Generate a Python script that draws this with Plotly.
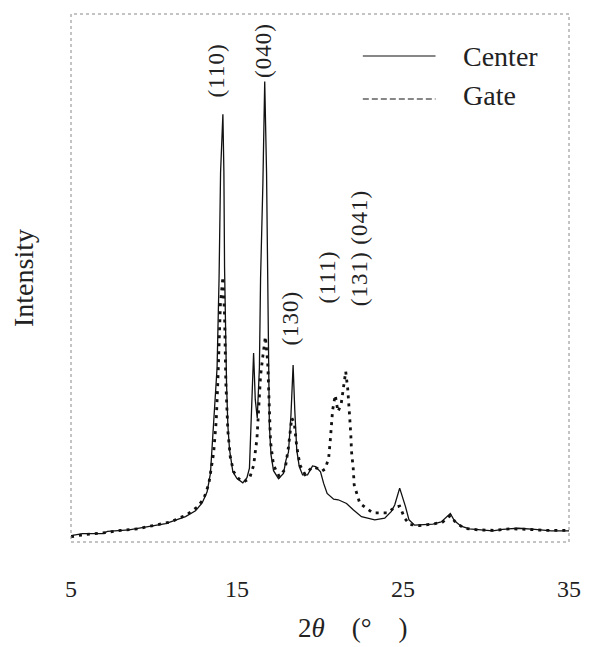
import plotly.graph_objects as go

# XRD patterns, 2-theta in degrees, intensity in arbitrary units
two_theta_center = [5.0, 5.7, 6.9, 7.2, 8.5, 9.7, 10.7, 11.9, 12.5, 12.9, 13.2, 13.4,
                    13.55, 13.72, 13.8, 13.92, 14.01, 14.15, 14.21, 14.25, 14.3, 14.37,
                    14.45, 14.55, 14.75, 15.0, 15.35, 15.6, 15.75, 15.87, 16.0, 16.1,
                    16.22, 16.35, 16.42, 16.56, 16.67, 16.78, 16.84, 16.88, 16.95, 17.05,
                    17.2, 17.5, 17.8, 17.95, 18.1, 18.25, 18.38, 18.48, 18.6, 18.75,
                    18.95, 19.25, 19.55, 19.73, 20.03, 20.22, 20.43, 20.82, 21.1, 21.6,
                    22.0, 22.5, 23.3, 23.9, 24.3, 24.5, 24.8, 25.15, 25.36, 25.7, 26.3,
                    26.8, 27.3, 27.6, 27.85, 28.1, 28.5, 29.0, 30.4, 31.0, 31.96, 32.95,
                    33.94, 35.0]
center = [1.2, 1.6, 1.6, 2.0, 2.3, 2.9, 3.5, 4.8, 5.9, 7.4, 9.5, 13.0,
          20.0, 28.0, 33.0, 50.0, 70.0, 81.0, 70.0, 52.0, 40.0, 30.0,
          22.0, 17.5, 13.3, 12.0, 11.2, 12.2, 14.0, 24.0, 35.8, 27.0,
          23.5, 33.0, 50.0, 68.0, 87.2, 70.0, 50.0, 33.0, 22.0, 16.5,
          13.5, 12.0, 13.0, 15.5, 17.0, 24.0, 33.5, 25.0, 17.4, 14.3,
          12.7, 12.7, 14.4, 14.3, 13.3, 11.1, 9.2, 8.1, 8.0, 7.3,
          6.1, 4.8, 4.2, 4.5, 5.8, 7.0, 10.2, 6.7, 4.2, 3.2, 3.3,
          3.4, 3.8, 4.6, 5.4, 4.0, 3.0, 2.5, 2.1, 2.4, 2.6, 2.4,
          2.1, 2.1]

two_theta_gate = [5.0, 5.8, 6.9, 8.0, 9.0, 10.0, 11.0, 12.0, 12.6, 13.0, 13.3, 13.59,
                  13.75, 13.85, 14.0, 14.15, 14.25, 14.33, 14.45, 14.6, 14.8, 15.1,
                  15.4, 15.75, 16.0, 16.2, 16.3, 16.42, 16.55, 16.71, 16.85, 16.93,
                  17.02, 17.2, 17.55, 17.9, 18.1, 18.3, 18.45, 18.6, 18.8, 19.1,
                  19.55, 19.8, 20.1, 20.3, 20.52, 20.62, 20.68, 20.76, 20.92, 21.08,
                  21.27, 21.41, 21.55, 21.67, 21.75, 21.8, 21.86, 21.9, 22.0, 22.06,
                  22.4, 23.18, 24.07, 24.47, 24.8, 25.1, 25.4, 26.0, 26.8, 27.4,
                  27.85, 28.2, 28.7, 29.5, 30.5, 31.5, 32.5, 33.5, 35.0]
gate = [1.0, 1.4, 1.7, 2.2, 2.5, 3.1, 3.8, 5.2, 6.6, 8.2, 11.0, 16.8,
        23.0, 30.7, 45.0, 50.2, 43.0, 30.0, 21.0, 16.0, 13.3, 12.0,
        11.4, 12.0, 14.5, 19.5, 26.0, 31.5, 35.0, 38.9, 34.0, 26.0,
        19.0, 14.5, 12.4, 13.8, 18.0, 23.5, 22.5, 18.0, 14.5, 12.8,
        14.2, 14.0, 13.4, 13.8, 15.8, 19.3, 22.0, 25.0, 27.8, 24.7,
        26.0, 29.0, 32.3, 29.0, 26.3, 23.1, 20.0, 17.1, 14.0, 10.8,
        7.3, 5.5, 5.5, 6.5, 6.8, 4.5, 3.3, 3.1, 3.4, 3.8,
        5.0, 3.6, 2.6, 2.3, 2.2, 2.5, 2.4, 2.2, 2.2]

# Miller-index labels: text and position (2-theta, intensity)
peak_labels = ["(110)", "(040)", "(130)", "(111)", "(131) (041)"]
label_x = [13.79, 16.6, 18.25, 20.43, 22.4]
label_y = [89.3, 93.1, 42.5, 50.1, 55.6]

x_ticks = [5, 15, 25, 35]

SERIF = "Liberation Serif, Times New Roman, serif"
NB = "\u00a0"

fig = go.Figure()
fig.add_trace(go.Scatter(x=two_theta_center, y=center, mode="lines", name="Center",
                         line=dict(color="#111", width=1.3), showlegend=False))
fig.add_trace(go.Scatter(x=two_theta_gate, y=gate, mode="lines", name="Gate",
                         line=dict(color="#111", width=2.8, dash="3px,5px"),
                         showlegend=False))

for txt, lx, ly in zip(peak_labels, label_x, label_y):
    fig.add_annotation(x=lx, y=ly, xref="x", yref="y",
                       text=f'<span style="letter-spacing:1px">{txt}</span>',
                       textangle=-90, showarrow=False, xanchor="center", yanchor="middle",
                       font=dict(family=SERIF, size=23, color="#222"))

# legend drawn by hand so the line samples are long
fig.add_shape(type="line", xref="paper", yref="paper", x0=0.586, x1=0.732,
              y0=0.9205, y1=0.9205, line=dict(color="#111", width=1.2))
fig.add_shape(type="line", xref="paper", yref="paper", x0=0.586, x1=0.732,
              y0=0.839, y1=0.839, line=dict(color="#111", width=1.2, dash="6px,3px"))
fig.add_annotation(x=0.783, y=0.9186, xref="paper", yref="paper", text="Center",
                   showarrow=False, xanchor="left", yanchor="middle",
                   font=dict(family=SERIF, size=28, color="#222"))
fig.add_annotation(x=0.783, y=0.845, xref="paper", yref="paper", text="Gate",
                   showarrow=False, xanchor="left", yanchor="middle",
                   font=dict(family=SERIF, size=28, color="#222"))

# x-axis title, set below the tick labels
fig.add_annotation(x=(300 - 71) / 507, y=(542 - 645) / 528, xref="paper", yref="paper",
                   text=f"2<i>θ</i>{NB * 4}(°{NB * 4})", showarrow=False,
                   xanchor="left", yanchor="bottom",
                   font=dict(family=SERIF, size=27, color="#222"))

# dotted frame around the plot area
fig.add_shape(type="rect", xref="paper", yref="paper", x0=0, x1=1, y0=0, y1=1,
              line=dict(color="#888", width=1, dash="dot"))

fig.update_layout(
    width=593, height=647,
    margin=dict(l=71, r=15, t=14, b=105),
    paper_bgcolor="white", plot_bgcolor="white",
    font=dict(family=SERIF, color="#222"),
    xaxis=dict(range=[5, 35], tickvals=x_ticks, ticktext=[str(t) for t in x_ticks],
               showgrid=False, zeroline=False, showline=False, ticks="",
               tickfont=dict(family=SERIF, size=24, color="#222"),
               ticklabelstandoff=30),
    yaxis=dict(range=[0, 100], showticklabels=False, showgrid=False, zeroline=False,
               showline=False, ticks="",
               title=dict(text="Intensity", standoff=28,
                          font=dict(family=SERIF, size=28, color="#222"))),
)

fig.write_html("out.html")
